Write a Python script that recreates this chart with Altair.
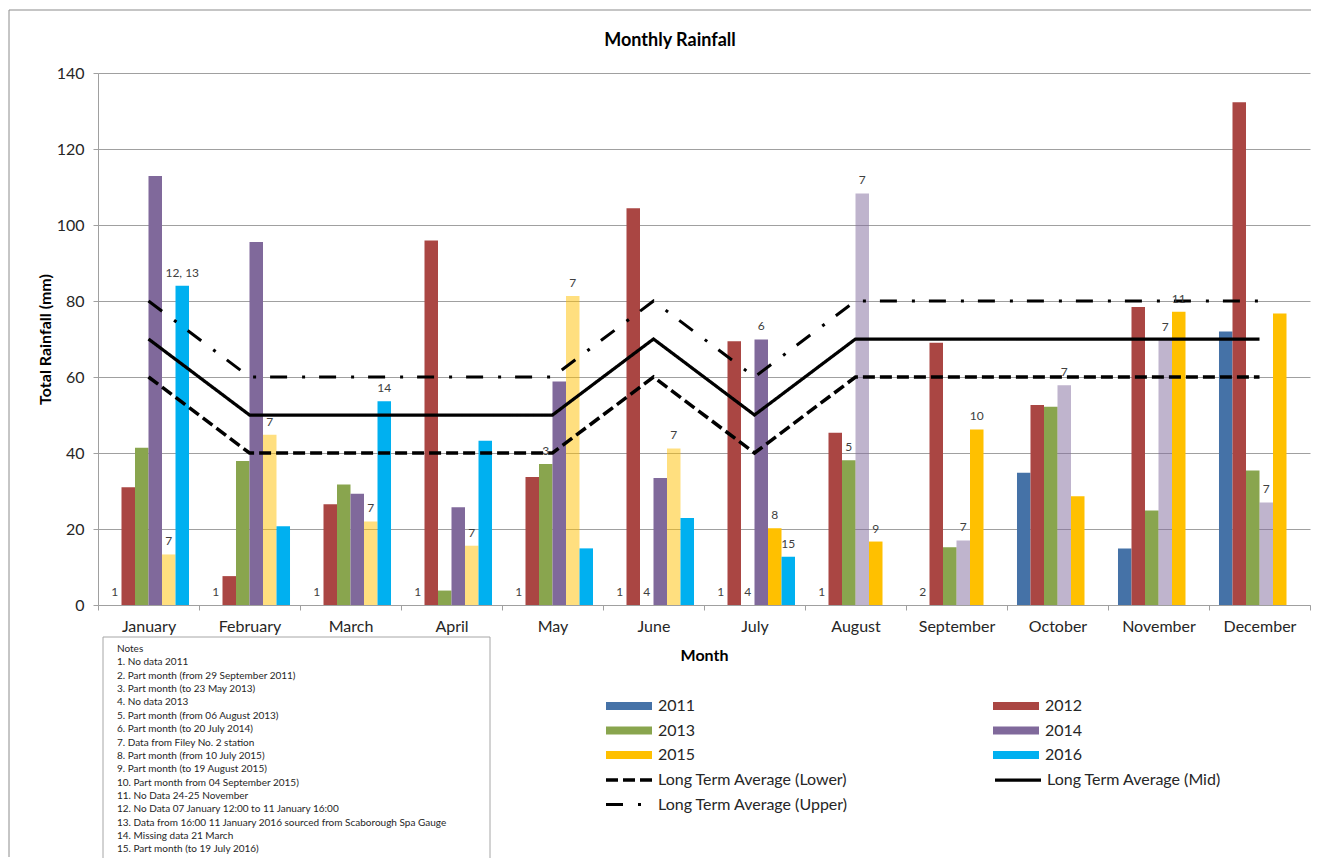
import altair as alt
import pandas as pd

months = ["January", "February", "March", "April", "May", "June", "July",
          "August", "September", "October", "November", "December"]
years = ["2011", "2012", "2013", "2014", "2015", "2016"]
year_colors = ["#4572A7", "#AA4643", "#89A54E", "#80699B", "#FFC000", "#00B0F0"]

rain_2011 = [None, None, None, None, None, None, None, None, None, 34.8, 14.9, 72.0]
rain_2012 = [31.0, 7.6, 26.5, 95.9, 33.7, 104.4, 69.4, 45.3, 69.0, 52.6, 78.4, 132.3]
rain_2013 = [41.4, 37.9, 31.7, 3.8, 37.1, None, None, 38.1, 15.2, 52.2, 24.9, 35.4]
rain_2014 = [112.9, 95.5, 29.3, 25.7, 58.8, 33.4, 69.9, 108.3, 17.0, 57.8, 69.8, 27.0]
rain_2015 = [13.3, 44.8, 22.0, 15.6, 81.3, 41.2, 20.2, 16.7, 46.2, 28.6, 77.2, 76.7]
rain_2016 = [84.0, 20.7, 53.6, 43.2, 14.9, 22.9, 12.7, None, None, None, None, None]

# bars with data from Filey No. 2 station (drawn lighter)
filey_2014 = ["August", "September", "October", "November", "December"]
filey_2015 = ["January", "February", "March", "April", "May", "June"]

lta_names = ["Long Term Average (Lower)", "Long Term Average (Mid)", "Long Term Average (Upper)"]
lta_lower = [60, 40, 40, 40, 40, 60, 40, 60, 60, 60, 60, 60]
lta_mid = [70, 50, 50, 50, 50, 70, 50, 70, 70, 70, 70, 70]
lta_upper = [80, 60, 60, 60, 60, 80, 60, 80, 80, 80, 80, 80]

# note markers on bars: (month, year, text)
note_months = ["January", "January", "January", "February", "February",
               "March", "March", "March", "April", "April",
               "May", "May", "May", "June", "June", "June",
               "July", "July", "July", "July", "July",
               "August", "August", "August", "August",
               "September", "September", "September",
               "October", "November", "November", "December"]
note_years = ["2011", "2015", "2016", "2011", "2015",
              "2011", "2015", "2016", "2011", "2015",
              "2011", "2013", "2015", "2011", "2013", "2015",
              "2011", "2013", "2014", "2015", "2016",
              "2011", "2013", "2014", "2015",
              "2011", "2014", "2015",
              "2014", "2014", "2015", "2014"]
note_texts = ["1", "7", "12, 13", "1", "7",
              "1", "7", "14", "1", "7",
              "1", "3", "7", "1", "4", "7",
              "1", "4", "6", "8", "15",
              "1", "5", "7", "9",
              "2", "7", "10",
              "7", "7", "11", "7"]

notes_lines = [
    "Notes",
    "1. No data 2011",
    "2. Part month (from 29 September 2011)",
    "3. Part month (to 23 May 2013)",
    "4. No data 2013",
    "5. Part month (from 06 August 2013)",
    "6. Part month (to 20 July 2014)",
    "7. Data from Filey No. 2 station",
    "8. Part month (from 10 July 2015)",
    "9. Part month (to 19 August 2015)",
    "10. Part month from 04 September 2015)",
    "11. No Data 24-25 November",
    "12. No Data 07 January 12:00 to 11 January 16:00",
    "13. Data from 16:00 11 January 2016  sourced from Scaborough Spa Gauge",
    "14. Missing data 21 March",
    "15. Part month (to 19 July 2016)",
]

chart_title = "Monthly Rainfall"

FONT = "Lato"

series = dict(zip(years, [rain_2011, rain_2012, rain_2013, rain_2014, rain_2015, rain_2016]))
filey = {"2014": filey_2014, "2015": filey_2015}

bar_rows = []
for yr in years:
    for m, v in zip(months, series[yr]):
        if v is not None:
            bar_rows.append({"month": m, "year": yr, "value": v,
                             "filey": m in filey.get(yr, [])})
bars_df = pd.DataFrame(bar_rows)

line_rows = []
for name, vals in zip(lta_names, [lta_lower, lta_mid, lta_upper]):
    for m, v in zip(months, vals):
        line_rows.append({"month": m, "lta": name, "value": v})
lines_df = pd.DataFrame(line_rows)

label_rows = []
for m, yr, t in zip(note_months, note_years, note_texts):
    v = series[yr][months.index(m)]
    label_rows.append({"month": m, "year": yr, "text": t, "value": v if v is not None else 0})
labels_df = pd.DataFrame(label_rows)

GRID = "#a0a0a0"
one = pd.DataFrame({"k": [0]})
one_b = pd.DataFrame({"edge": ["left"]})

x_enc = alt.X(
    "month:N",
    scale=alt.Scale(domain=months, paddingInner=0, paddingOuter=0),
    axis=alt.Axis(
        title="Month", labelAngle=0, tickBand="extent", tickSize=5,
        tickColor=GRID, domainColor=GRID, labelPadding=8,
        labelFont=FONT, labelFontSize=16, labelColor="#262626",
        titleFont=FONT, titleFontSize=16, titleFontWeight="bold", titleColor="black",
        titleX=606, titleY=50, titleAlign="center", titleBaseline="middle",
    ),
)
xoff = alt.XOffset("year:N", scale=alt.Scale(domain=years, paddingInner=0, paddingOuter=0.74))
y_enc = alt.Y(
    "value:Q",
    scale=alt.Scale(domain=[0, 140], nice=False),
    axis=alt.Axis(
        values=[0, 20, 40, 60, 80, 100, 120, 140], title="Total Rainfall (mm)",
        grid=True, gridColor=GRID, domainColor=GRID, tickColor=GRID, tickSize=5,
        labelPadding=9, labelFont=FONT, labelFontSize=16, labelColor="#262626",
        titleFont=FONT, titleFontSize=16, titleFontWeight="bold", titleColor="black",
        titleAngle=270, titleX=-53, titleY=266, titleAlign="center", titleBaseline="middle",
    ),
)

# outer chart-area border along the top and left edges
border_top = alt.Chart(one).mark_rect(fill="#8c8c8c", strokeWidth=0).encode(
    x=alt.value(-89), x2=alt.value(1213), y=alt.value(-63.5), y2=alt.value(-62.5))
border_left = alt.Chart(one_b).mark_rule(color="#8c8c8c", strokeWidth=1).encode(
    x=alt.value(-89), y=alt.value(-63), y2=alt.value(784))

bars = alt.Chart(bars_df).mark_bar().encode(
    x=x_enc,
    xOffset=xoff,
    y=y_enc,
    color=alt.Color(
        "year:N",
        scale=alt.Scale(domain=years, range=year_colors),
        legend=alt.Legend(
            title=None, orient="none", legendX=504, legendY=625, columns=2,
            direction="horizontal", columnPadding=293, rowPadding=8.5, padding=0,
            symbolType="M-1,-1H10.5V1H-1Z", symbolSize=64, symbolStrokeWidth=0,
            symbolOpacity=1, labelOffset=40, labelFont=FONT, labelFontSize=16,
            labelColor="#262626", labelLimit=400,
        ),
    ),
    opacity=alt.when(alt.datum.filey).then(alt.value(0.5)).otherwise(alt.value(1.0)),
)

lines = alt.Chart(lines_df).mark_line(color="black").encode(
    x=alt.X("month:N"),
    y=alt.Y("value:Q"),
    strokeDash=alt.StrokeDash(
        "lta:N",
        scale=alt.Scale(domain=lta_names, range=[[12, 5], [1, 0], [17, 15, 3, 14]]),
        legend=alt.Legend(
            title=None, orient="none", legendX=504, legendY=699, columns=2,
            direction="horizontal", columnPadding=139, rowPadding=8.5, padding=0,
            symbolType="M-1,0H10.5", symbolSize=64, symbolStrokeWidth=3.3,
            symbolStrokeColor="black", labelOffset=40, labelFont=FONT,
            labelFontSize=16, labelColor="#262626", labelLimit=400,
        ),
    ),
    strokeWidth=alt.StrokeWidth(
        "lta:N", scale=alt.Scale(domain=lta_names, range=[3.5, 3, 3.5]), legend=None),
)

labels = alt.Chart(labels_df).mark_text(
    font=FONT, fontSize=12, color="#404040", baseline="middle", dy=-13
).encode(x=alt.X("month:N"), xOffset=alt.XOffset("year:N"), y=alt.Y("value:Q"), text="text:N")

title = alt.Chart(one).mark_text(
    font=FONT, fontSize=18, fontWeight="bold", color="black", align="center", baseline="middle"
).encode(x=alt.value(572), y=alt.value(-32), text=alt.value(chart_title))

notes_box = alt.Chart(one).mark_rect(
    fill="white", stroke="#a6a6a6", strokeWidth=1
).encode(x=alt.value(5), x2=alt.value(392), y=alt.value(564), y2=alt.value(789))

notes_text = alt.Chart(one).mark_text(
    font=FONT, fontSize=10, color="#262626", align="left", baseline="top", lineHeight=13.36
).encode(x=alt.value(19), y=alt.value(571), text=alt.value(notes_lines))

chart = alt.layer(border_top, bars, lines, labels, title, notes_box, notes_text, border_left).properties(
    width=1212,
    height=532,
    autosize=alt.AutoSizeParams(type="none"),
    padding={"left": 90, "top": 65, "right": 2, "bottom": 253},
).configure_view(strokeOpacity=0)

chart.save("out.html", embed_options={"renderer": "svg", "actions": False})
